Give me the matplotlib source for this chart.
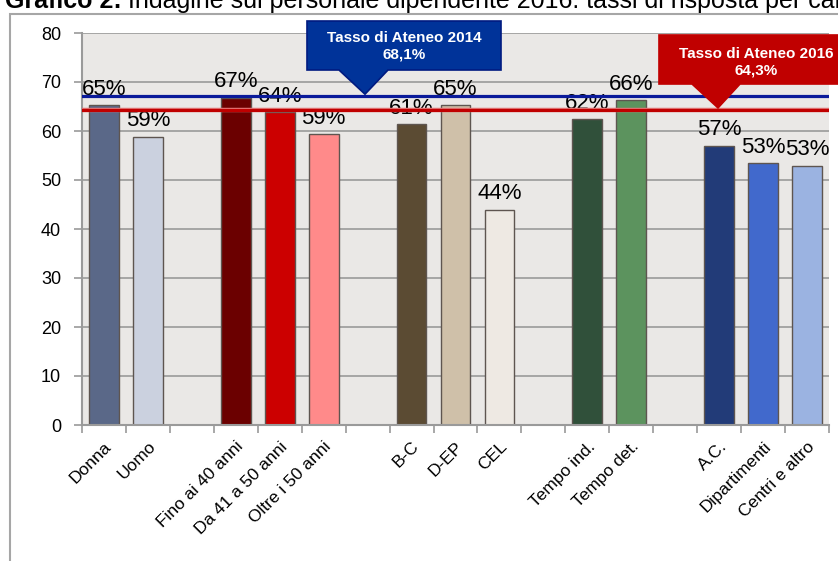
import matplotlib
matplotlib.use("Agg")
import matplotlib.pyplot as plt
from matplotlib.patches import Polygon, Rectangle

plt.rcParams["font.family"] = ["Liberation Sans", "DejaVu Sans"]

# empty strings are the gaps between groups
categories = ["Donna", "Uomo", "",
              "Fino ai 40 anni", "Da 41 a 50 anni", "Oltre i 50 anni", "",
              "B-C", "D-EP", "CEL", "",
              "Tempo ind.", "Tempo det.", "",
              "A.C.", "Dipartimenti", "Centri e altro"]
values = [65.3, 58.8, None,
          66.8, 63.8, 59.4, None,
          61.4, 65.3, 43.9, None,
          62.4, 66.3, None,
          57.0, 53.4, 52.9]
colors = ["#5A6888", "#CBD1DF", None,
          "#6B0000", "#CC0000", "#FF8A8A", None,
          "#5B4B33", "#CFC0A9", "#EEE9E3", None,
          "#30503A", "#5C935E", None,
          "#223B78", "#4169CC", "#9BB3E1"]
rate_2014 = 67.1
rate_2016 = 64.3
label_2014 = "Tasso di Ateneo 2014\n68,1%"
label_2016 = "Tasso di Ateneo 2016\n64,3%"
title_bold = "Grafico 2:"
title_rest = "Indagine sul personale dipendente 2016: tassi di risposta per caratteristiche"

W, H = 838, 561
fig = plt.figure(figsize=(W / 100, H / 100), dpi=100)
fig.patch.set_facecolor("white")


def fx(px):
    return px / W


def fy(py):
    return 1 - py / H


ax = fig.add_axes([fx(82), fy(425), fx(829) - fx(82), fy(33) - fy(425)])
ax.set_facecolor("#EAE8E6")

pos = list(range(len(categories)))
for i, v in enumerate(values):
    if v is None:
        continue
    ax.bar(i, v, width=0.68, color=colors[i], edgecolor="#5E5550", linewidth=1.0, zorder=2)
    ax.annotate(f"{v:.0f}%", (i, v), xytext=(0, 7.5), textcoords="offset points",
                ha="center", va="baseline", fontsize=16, color="black", zorder=3)

ax.axhline(rate_2014, color="#0A1A9A", lw=2.3, zorder=4)
ax.axhline(rate_2016, color="#E07070", lw=3.2, zorder=4)
ax.axhline(rate_2016, color="#C00000", lw=2.2, zorder=4)

ax.set_xlim(-0.5, len(categories) - 0.5)
ax.set_ylim(0, 80)
ax.set_yticks(range(0, 81, 10))
ax.grid(axis="y", color="#9A9A9A", lw=1.2)
ax.set_axisbelow(True)

ax.set_xticks(pos)
ax.set_xticklabels(categories, rotation=45, ha="right", rotation_mode="anchor", fontsize=12.5)
ax.set_xticks([p - 0.5 for p in pos] + [pos[-1] + 0.5], minor=True)
ax.tick_params(axis="x", which="major", length=0, pad=10)
ax.tick_params(axis="x", which="minor", length=6, width=1.2, color="#9A9A9A")
ax.tick_params(axis="y", length=6, width=1.2, color="#9A9A9A", labelsize=13, pad=9)
for s in ("top", "right"):
    ax.spines[s].set_visible(False)
for s in ("left", "bottom"):
    ax.spines[s].set_color("#9A9A9A")
    ax.spines[s].set_linewidth(1.5)

# outer frame of the original document
fig.patches.append(Rectangle((fx(10), -0.2), 1.2, fy(14) + 0.2, transform=fig.transFigure,
                             fill=False, edgecolor="#A6A6A6", lw=1.5, clip_on=False))


def callout(box, base, tip_x, value, face, edge, text, text_y):
    x0, y0, x1, y1 = box
    tip_y = H - ax.transData.transform((0, value))[1] - 2
    pts = [(x0, y0), (x1, y0), (x1, y1), (base[1], y1), (tip_x, tip_y), (base[0], y1), (x0, y1)]
    fig.patches.append(Polygon([(fx(a), fy(b)) for a, b in pts], closed=True,
                               transform=fig.transFigure, facecolor=face, edgecolor=edge,
                               lw=1.2, zorder=5))
    fig.text(fx((x0 + min(x1, 853)) / 2), fy(text_y), text, ha="center", va="center",
             color="white", fontsize=11, fontweight="bold", linespacing=1.25, zorder=6)


callout((307, 21, 501, 70), (339, 388), 365, rate_2014, "#003399", "#001A80", label_2014, 46.5)
callout((659, 35, 853, 84), (692, 740), 718, rate_2016, "#C00000", "#C00000", label_2016, 62)

# title, cut by the top edge as in the source image
t1 = fig.text(fx(5), fy(8), title_bold, fontsize=18, fontweight="bold", va="baseline")
fig.canvas.draw()
ext = t1.get_window_extent()
fig.text(fx(ext.x1 + 6), fy(8), title_rest, fontsize=18, va="baseline")

fig.savefig("out.png", dpi=100)
